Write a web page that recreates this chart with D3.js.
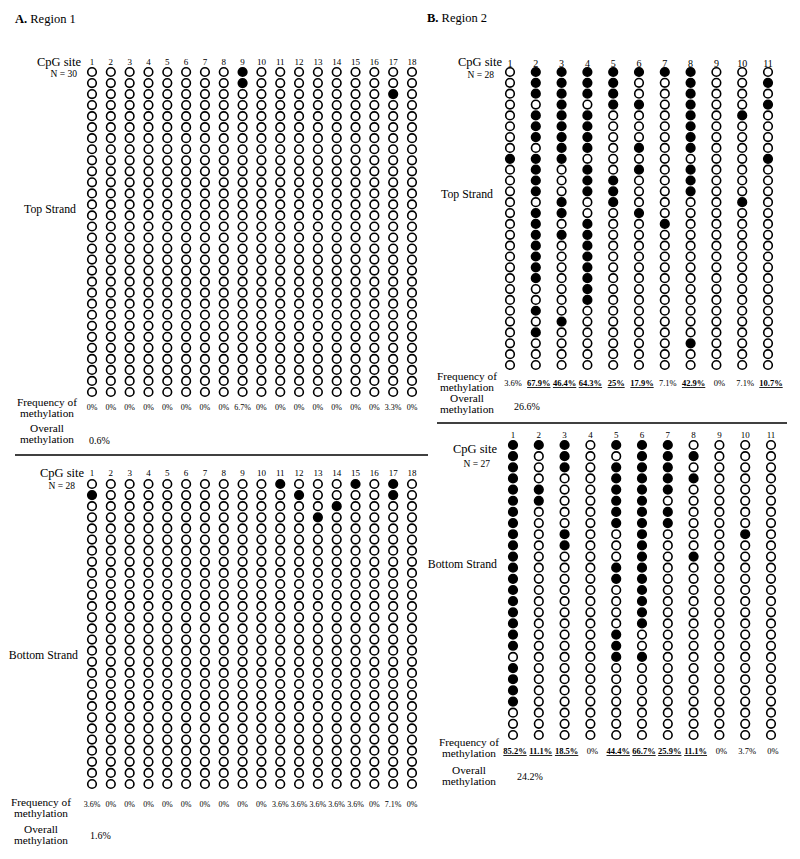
<!DOCTYPE html>
<html><head><meta charset="utf-8">
<script src="https://cdn.jsdelivr.net/npm/d3@7"></script>
<style>
body{margin:0;background:#fff}
text{font-family:"Liberation Serif","DejaVu Serif",serif;fill:#000}
</style>
</head><body>
<svg id="c" width="800" height="859"></svg>
<script>
// ---------- DATA ----------
const r1Sites = [1,2,3,4,5,6,7,8,9,10,11,12,13,14,15,16,17,18];
const r2Sites = [1,2,3,4,5,6,7,8,9,10,11];
const r1TopN = 30, r1BotN = 28, r2TopN = 28, r2BotN = 27;

// methylated clone (row) indices for each CpG site
const r1TopMeth = [[],[],[],[],[],[],[],[],[0,1],[],[],[],[],[],[],[],[2],[]];
const r1BotMeth = [[1],[],[],[],[],[],[],[],[],[],[0],[1],[3],[2],[0],[],[0,1],[]];
const r2TopMeth = [
  [8],
  [0,1,2,4,5,6,8,9,10,11,13,14,15,16,17,18,19,22,24],
  [0,1,2,3,4,5,6,7,8,12,13,15,23],
  [0,1,2,4,5,6,7,9,10,11,14,15,16,17,18,19,20,21],
  [0,1,2,3,10,11,12],
  [0,3,7,9,13],
  [0,14],
  [0,1,2,3,4,5,6,7,9,10,11,25],
  [],
  [4,12],
  [1,3,8]
];
const r2BotMeth = [
  [0,1,2,3,4,5,6,7,8,9,10,11,12,13,14,15,16,17,18,20,21,22,23],
  [0,4,5],
  [0,1,2,8,9],
  [],
  [0,2,3,4,5,6,7,11,12,17,18,19],
  [0,1,2,3,4,5,6,7,8,9,10,11,12,13,14,15,16,19],
  [0,1,2,3,4,6,7],
  [1,3,10],
  [],
  [8],
  []
];

const r1TopFreq = ["0%","0%","0%","0%","0%","0%","0%","0%","6.7%","0%","0%","0%","0%","0%","0%","0%","3.3%","0%"];
const r1BotFreq = ["3.6%","0%","0%","0%","0%","0%","0%","0%","0%","0%","3.6%","3.6%","3.6%","3.6%","3.6%","0%","7.1%","0%"];
const r2TopFreq = ["3.6%","67.9%","46.4%","64.3%","25%","17.9%","7.1%","42.9%","0%","7.1%","10.7%"];
const r2TopUnderline = [false,true,true,true,true,true,false,true,false,false,true];
const r2BotFreq = ["85.2%","11.1%","18.5%","0%","44.4%","66.7%","25.9%","11.1%","0%","3.7%","0%"];
const r2BotUnderline = [true,true,true,false,true,true,true,true,false,false,false];
const overallValues = ["0.6%","1.6%","26.6%","24.2%"];

// ---------- DRAW ----------
const svg = d3.select("#c");

function panel(cfg){
  const g = svg.append("g");
  const x = d3.scaleLinear().domain([cfg.sites[0], cfg.sites[cfg.sites.length-1]]).range([cfg.x0, cfg.x1]);
  const y = d3.scaleLinear().domain([0, cfg.n-1]).range([cfg.y0, cfg.y1]);

  g.selectAll("text.site").data(cfg.sites).join("text")
    .attr("x", d=>x(d)).attr("y", cfg.numY)
    .attr("text-anchor","middle").style("font-size", cfg.numSize+"px").text(d=>d);

  const cells = [];
  cfg.sites.forEach((s,i)=>{
    const m = new Set(cfg.meth[i]);
    for(let r=0;r<cfg.n;r++) cells.push({s, r, on: m.has(r)});
  });
  g.selectAll("circle").data(cells).join("circle")
    .attr("cx", d=>x(d.s)).attr("cy", d=>y(d.r)).attr("r", 4.3)
    .attr("fill", d=>d.on ? "#000" : "#fff")
    .attr("stroke","#000").attr("stroke-width",1.6);

  g.selectAll("text.freq").data(cfg.sites).join("text")
    .attr("x", d=>x(d)+cfg.freqDx).attr("y", cfg.freqY)
    .attr("text-anchor","middle").style("font-size", cfg.freqSize+"px")
    .style("font-weight", (d,i)=>cfg.under && cfg.under[i] ? "bold" : "normal")
    .style("text-decoration", (d,i)=>cfg.under && cfg.under[i] ? "underline" : "none")
    .text((d,i)=>cfg.freq[i]);

  const L = (t,xx,yy,size,anchor)=>g.append("text").attr("x",xx).attr("y",yy)
     .attr("text-anchor",anchor||"end").style("font-size",size+"px").text(t);
  L("CpG site", cfg.cpgX, cfg.cpgY, 12.5, "end");
  L("N = "+cfg.n, cfg.nX, cfg.nY, 9.5, "end");
  L(cfg.strand, cfg.strandX, cfg.strandY, 11.8, "end");
  L("Frequency of", cfg.fqX, cfg.fqY, 11.3, "middle");
  L("methylation", cfg.fqX, cfg.fqY+11, 11.3, "middle");
  L("Overall", cfg.fqX, cfg.ovY, 11.3, "middle");
  L("methylation", cfg.fqX, cfg.ovY+11, 11.3, "middle");
  L(cfg.overall, cfg.ovValX, cfg.ovValY, 10, "start");
}

panel({sites:r1Sites, n:r1TopN, meth:r1TopMeth, freq:r1TopFreq, overall:overallValues[0], strand:"Top Strand",
  x0:92, x1:412, y0:72, y1:392, numY:65, numSize:9, freqY:410, freqSize:8, freqDx:0,
  cpgX:81, cpgY:66, nX:77, nY:77, strandX:76, strandY:213,
  fqX:47, fqY:406, ovY:432, ovValX:89, ovValY:444});

panel({sites:r1Sites, n:r1BotN, meth:r1BotMeth, freq:r1BotFreq, overall:overallValues[1], strand:"Bottom Strand",
  x0:92, x1:412, y0:484, y1:784, numY:476, numSize:9, freqY:807, freqSize:8, freqDx:0,
  cpgX:84, cpgY:477, nX:75, nY:489, strandX:78, strandY:659,
  fqX:41, fqY:806, ovY:833, ovValX:90, ovValY:839});

panel({sites:r2Sites, n:r2TopN, meth:r2TopMeth, freq:r2TopFreq, under:r2TopUnderline, overall:overallValues[2], strand:"Top Strand",
  x0:510, x1:768, y0:72, y1:365, numY:67, numSize:10, freqY:386, freqSize:8.5, freqDx:3,
  cpgX:502, cpgY:66, nX:494, nY:78, strandX:493, strandY:198,
  fqX:467, fqY:380, ovY:402, ovValX:514, ovValY:410});

panel({sites:r2Sites, n:r2BotN, meth:r2BotMeth, freq:r2BotFreq, under:r2BotUnderline, overall:overallValues[3], strand:"Bottom Strand",
  x0:513, x1:771, y0:445, y1:735, numY:438, numSize:9, freqY:754, freqSize:8.5, freqDx:2,
  cpgX:497, cpgY:453, nX:490, nY:467, strandX:497, strandY:568,
  fqX:469, fqY:746, ovY:774, ovValX:517, ovValY:780});

const title = (b,t,xx,yy)=>{
  const tx = svg.append("text").attr("x",xx).attr("y",yy).style("font-size","12.5px");
  tx.append("tspan").style("font-weight","bold").text(b);
  tx.append("tspan").text(" "+t);
};
title("A.","Region 1",15,23);
title("B.","Region 2",427,22);

svg.append("line").attr("x1",15).attr("x2",428).attr("y1",455).attr("y2",455).attr("stroke","#000").attr("stroke-width",1.5);
svg.append("line").attr("x1",437).attr("x2",787).attr("y1",423).attr("y2",423).attr("stroke","#000").attr("stroke-width",1.5);
</script>
</body></html>
